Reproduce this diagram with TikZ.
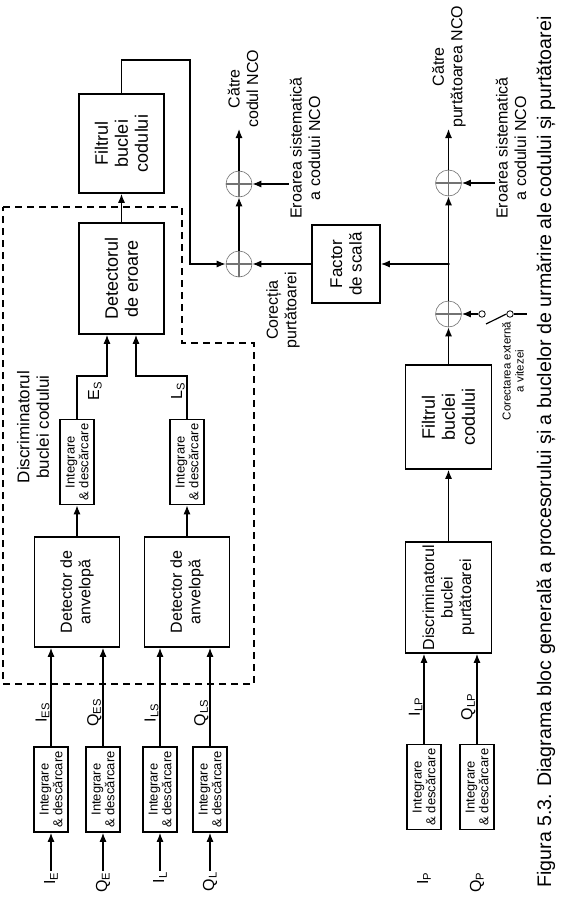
\documentclass[tikz,border=0pt]{standalone}
\usepackage{fontspec}
\setmainfont{Liberation Sans}
\usetikzlibrary{positioning,arrows.meta}
\tikzset{
 b/.style
  = {rectangle, draw, rotate=90, line width=1.6pt, align=center, inner sep=2pt,
     font=\fontsize{16}{18.5}\selectfont},
 bl/.style
  = {b, font=\fontsize{18}{20}\selectfont},
 ib/.style
  = {rectangle, draw, rotate=90, line width=1.6pt, align=center, inner sep=1pt,
     minimum width=85pt, minimum height=34pt, font=\fontsize{13}{13.8}\selectfont},
 c/.style
  = {circle, draw=black!55, line width=0.6pt, minimum size=26pt, inner sep=0pt,
     path picture={\draw[line width=1.5pt]
       (path picture bounding box.north) -- (path picture bounding box.south)
       (path picture bounding box.west) -- (path picture bounding box.east);}},
 term/.style
  = {circle, draw, line width=0.8pt, minimum size=6.5pt, inner sep=0pt},
 l/.style
  = {draw, -{Latex[length=9pt,width=7pt]}, line width=1.2pt},
 ln/.style
  = {draw, line width=1.2pt},
 dl/.style
  = {draw, line width=1.6pt, dash pattern=on 7pt off 5pt},
 mylabel/.style
  = {rotate=90, align=center, inner sep=1pt, font=\fontsize{16}{18.5}\selectfont},
 sig/.style
  = {rotate=90, inner sep=1pt, font=\fontsize{16}{18}\selectfont}
}

\begin{document}
\begin{tikzpicture}[x=1pt, y=1pt]
    \useasboundingbox (0,0) rectangle (564,-899);

    % code loop: correlator outputs
    \node [ib] (intE) at (51,-789.5) {Integrare\\\& descărcare};
    \node [ib] (intQE) at (103,-789.5) {Integrare\\\& descărcare};
    \node [ib] (intIL) at (160,-789.5) {Integrare\\\& descărcare};
    \node [ib] (intQL) at (210,-789.5) {Integrare\\\& descărcare};
    \node [sig, anchor=east] (inE) at (51,-871) {I\textsubscript{E}};
    \node [sig, anchor=east] (inQE) at (103,-871) {Q\textsubscript{E}};
    \node [sig, anchor=east] (inIL) at (160,-871) {I\textsubscript{L}};
    \node [sig, anchor=east] (inQL) at (210,-871) {Q\textsubscript{L}};

    \node [b, minimum width=110pt, minimum height=85pt] (envE) at (77,-592) {Detector de\\anvelopă};
    \node [b, minimum width=110pt, minimum height=85pt] (envL) at (187,-592) {Detector de\\anvelopă};
    \node [ib] (intES) at (77,-462) {Integrare\\\& descărcare};
    \node [ib] (intLS) at (187,-462) {Integrare\\\& descărcare};
    \node [bl, minimum width=111pt, minimum height=85pt] (det) at (121.5,-278.5) {Detectorul\\de eroare};
    \node [bl, minimum width=99pt, minimum height=85pt] (filC) at (121.5,-143.5) {Filtrul\\buclei\\codului};
    \node [mylabel, font=\fontsize{17}{19.5}\selectfont] (discC) at (33,-427) {Discriminatorul\\buclei codului};
    \node [sig] (lES) at (95,-391) {E\textsubscript{S}};
    \node [sig] (lLS) at (178,-391) {L\textsubscript{S}};

    % summing points and scale factor
    \node [c] (s1) at (239,-264) {};
    \node [c] (s2) at (239,-184) {};
    \node [b, minimum width=78pt, minimum height=68pt, font=\fontsize{17}{19.5}\selectfont] (fac) at (346,-264) {Factor\\de scală};
    \node [mylabel, anchor=west] (outC) at (243,-129) {Către\\codul NCO};
    \node [mylabel] (errC) at (305,-148) {Eroarea sistematică\\a codului NCO};
    \node [mylabel] (cor) at (283,-310) {Corecția\\purtătoarei};

    % carrier loop
    \node [ib] (intP) at (424,-787) {Integrare\\\& descărcare};
    \node [ib] (intQP) at (477,-787) {Integrare\\\& descărcare};
    \node [sig, anchor=east] (inP) at (424,-871) {I\textsubscript{P}};
    \node [sig, anchor=east] (inQP) at (477,-871) {Q\textsubscript{P}};
    \node [b, minimum width=111pt, minimum height=86pt] (disc) at (448.5,-597.5) {Discriminatorul\\buclei\\purtătoarei};
    \node [bl, minimum width=104pt, minimum height=86pt] (filP) at (448.5,-417) {Filtrul\\buclei\\codului};
    \node [c] (s3) at (448.5,-314) {};
    \node [c] (s4) at (448.5,-183) {};
    \node [mylabel, anchor=west] (outP) at (449,-129) {Către\\purtătoarea NCO};
    \node [mylabel] (errP) at (511,-148) {Eroarea sistematică\\a codului NCO};
    \node [term] (t1) at (482,-314) {};
    \node [term] (t2) at (510,-314) {};
    \node [mylabel, font=\fontsize{11.5}{13}\selectfont] (vit) at (513,-371) {Corectarea externă\\a vitezei};

    \node [rotate=90, font=\fontsize{19.6}{22}\selectfont] (cap) at (546,-452)
      {Figura 5.3. Diagrama bloc generală a procesorului și a buclelor de urmărire ale codului și purtătoarei};

    \coordinate (esB) at (107,-376);
    \coordinate (lsB) at (136,-376);
    \coordinate (fb1) at (190,-60);
    \coordinate (tap) at (448.5,-264);
    \coordinate (blade) at (486,-324);
    \coordinate (swIn) at (527,-314);

    % dashed discriminator frame
    \draw [dl] (3,-207) -- (182,-207) -- (182,-343) -- (254,-343) -- (254,-684) -- (3,-684) -- cycle;

    \path [l] (inE) -- (intE);
    \path [l] (inQE) -- (intQE);
    \path [l] (inIL) -- (intIL);
    \path [l] (inQL) -- (intQL);
    \path [l] (intE) -- (intE |- envE.west) node[sig, pos=0.34, anchor=south]{I\textsubscript{ES}};
    \path [l] (intQE) -- (intQE |- envE.west) node[sig, pos=0.34, anchor=south]{Q\textsubscript{ES}};
    \path [l] (intIL) -- (intIL |- envL.west) node[sig, pos=0.34, anchor=south]{I\textsubscript{LS}};
    \path [l] (intQL) -- (intQL |- envL.west) node[sig, pos=0.34, anchor=south]{Q\textsubscript{LS}};
    \path [l] (envE) -- (intES);
    \path [l] (envL) -- (intLS);
    \path [l] (intES) |- (esB) -- (esB |- det.west);
    \path [l] (intLS) |- (lsB) -- (lsB |- det.west);
    \path [l] (det) -- (filC);
    \path [l] (filC) |- (fb1) |- (s1);
    \path [l] (s1) -- (s2);
    \path [l] (s2) -- (s2 |- outC.west);
    \path [l] (errC.north |- s2) -- (s2);
    \path [l] (fac.north |- s1) -- (s1);

    \path [l] (intP) -- (intP |- disc.west) node[sig, pos=0.41, anchor=south]{I\textsubscript{LP}};
    \path [l] (intQP) -- (intQP |- disc.west) node[sig, pos=0.41, anchor=south]{Q\textsubscript{LP}};
    \path [l] (disc) -- (filP);
    \path [l] (filP) -- (s3);
    \path [l] (s3) -- (s4);
    \path [l] (tap) -- (fac);
    \fill (tap) circle (1.3pt);
    \path [l] (s4) -- (s4 |- outP.west);
    \path [l] (errP.north |- s4) -- (s4);
    \path [l] (t1) -- (s3);
    \path [ln] (blade) -- (t2.west);
    \path [ln] (t2) -- (swIn);

\end{tikzpicture}
\end{document}
